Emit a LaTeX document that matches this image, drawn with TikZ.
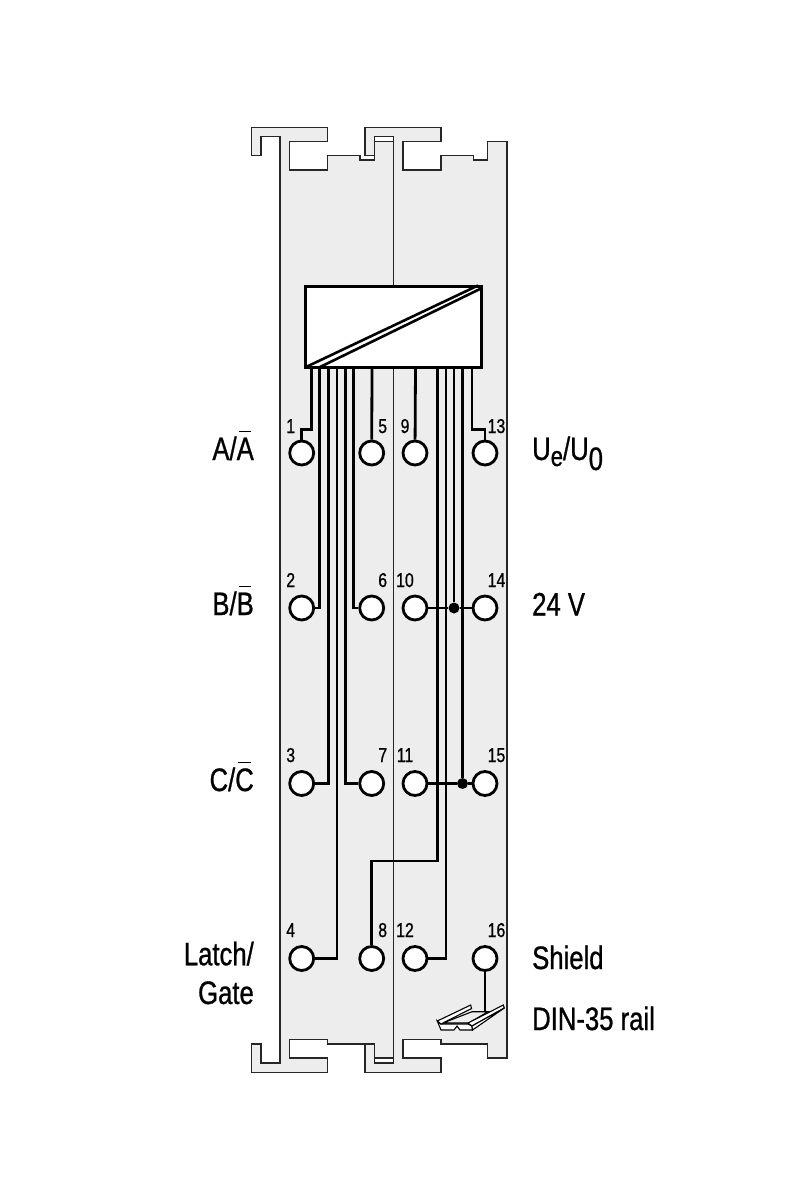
\documentclass[tikz,border=0pt]{standalone}
\usepackage{fontspec}
\setmainfont[FakeStretch=0.79,FakeBold=0.8]{Liberation Sans}
\usepackage{tikz}
\usetikzlibrary{calc}
\definecolor{housing}{HTML}{EDEDED}
\newcommand{\barred}[1]{\setbox0\hbox{#1}\makebox[0pt][l]{\hspace{.15\wd0}\raisebox{28pt}{\rule{.7\wd0}{1.5pt}}}\box0}

\begin{document}
\begin{tikzpicture}[
    x=1pt, y=-1pt,
    housing line/.style={draw=black!85, line width=1.4pt},
    wire/.style={line width=2.8pt, black},
    terminal/.style={circle, draw=black, fill=white, line width=2.8pt, minimum size=24pt, inner sep=0pt},
    junction/.style={circle, fill=black, minimum size=11pt, inner sep=0pt},
    pin no/.style={font=\fontsize{20}{20}\selectfont, anchor=base, inner sep=0pt},
    signal/.style={font=\fontsize{32.5}{38.7}\selectfont, inner sep=0pt}
    ]
    \useasboundingbox[fill=white] (0,0) rectangle (800,1200);

    % housing, left module
    \draw[housing line, fill=housing] (251.5,127.5) -- (327.5,127.5) -- (327.5,141.5) -- (289.5,141.5)
        -- (289.5,170) -- (327.5,170) -- (327.5,155.5) -- (360,155.5) -- (360,160) -- (374.5,160)
        -- (374.5,141.5) -- (393.5,141.5) -- (393.5,1058) -- (374.5,1058) -- (374.5,1044)
        -- (327.5,1044) -- (327.5,1039.5) -- (289.5,1039.5) -- (289.5,1058) -- (327.5,1058)
        -- (327.5,1072.5) -- (251.5,1072.5) -- (251.5,1044) -- (261,1044) -- (261,1063) -- (280,1063)
        -- (280,136.5) -- (261,136.5) -- (261,155.5) -- (251.5,155.5) -- cycle;
    % housing, right module
    \draw[housing line, fill=housing] (365,127.5) -- (441,127.5) -- (441,141.5) -- (403,141.5)
        -- (403,170) -- (441,170) -- (441,155.5) -- (473.5,155.5) -- (473.5,160) -- (487.5,160)
        -- (487.5,141.5) -- (507,141.5) -- (507,1058) -- (487.5,1058) -- (487.5,1044)
        -- (441,1044) -- (441,1039.5) -- (403,1039.5) -- (403,1058) -- (441,1058)
        -- (441,1072.5) -- (365,1072.5) -- (365,1044) -- (374.5,1044) -- (374.5,1063) -- (393.5,1063)
        -- (393.5,136.5) -- (374.5,136.5) -- (374.5,155.5) -- (365,155.5) -- cycle;

    % converter
    \node[draw=black, fill=white, line width=2.8pt, minimum width=176pt, minimum height=81pt, inner sep=0pt] (conv) at (393.5,326.8) {};
    \draw[line width=2.6pt] (306,367) -- (478,285.5);
    \draw[line width=2.6pt] (318,368) -- (482,288);

    % free ends of the wires
    \coordinate (w1) at (311.3,368);
    \coordinate (w2) at (319.7,368);
    \coordinate (w3) at (328.7,368);
    \coordinate (w4) at (337,368);
    \coordinate (w7) at (345.3,368);
    \coordinate (w6) at (353.7,368);
    \coordinate (w5) at (372,368);
    \coordinate (w9) at (415.5,368);
    \coordinate (w8) at (437.7,368);
    \coordinate (w12) at (446,368);
    \coordinate (w10) at (454,368);
    \coordinate (w11) at (462.5,368);
    \coordinate (w13) at (472,368);
    \coordinate (rail) at (485,1012);

    % terminals
    \node[terminal] (t1) at (301.7,453) {};
    \node[terminal] (t2) at (301.7,608) {};
    \node[terminal] (t3) at (301.7,783.5) {};
    \node[terminal] (t4) at (301.7,958.5) {};
    \node[terminal] (t5) at (371.7,453) {};
    \node[terminal] (t6) at (371.7,608) {};
    \node[terminal] (t7) at (371.7,783.5) {};
    \node[terminal] (t8) at (371.7,958.5) {};
    \node[terminal] (t9) at (415,453) {};
    \node[terminal] (t10) at (415,608) {};
    \node[terminal] (t11) at (415,783.5) {};
    \node[terminal] (t12) at (415,958.5) {};
    \node[terminal] (t13) at (485,453) {};
    \node[terminal] (t14) at (485,608) {};
    \node[terminal] (t15) at (485,783.5) {};
    \node[terminal] (t16) at (485,958.5) {};
    \node[junction] (j1) at (454,608) {};
    \node[junction] (j2) at (462.5,783.5) {};

    % wires
    \draw[wire] (w1) -- ($(w1 |- 0,429.3)$) -| (t1);
    \draw[wire] (w2) |- (t2);
    \draw[wire] (w3) |- (t3);
    \draw[wire] (w4) |- (t4);
    \draw[wire] (w7) |- (t7);
    \draw[wire] (w6) |- (t6);
    \draw[wire] (w5) -- (t5);
    \draw[wire] (w9) -- (t9);
    \draw[wire] (w8) -- ($(w8 |- 0,861)$) -| (t8);
    \draw[wire] (w12) |- (t12);
    \draw[wire] (w10) -- (j1);
    \draw[wire] (w11) -- (j2);
    \draw[wire] (w13) -- ($(w13 |- 0,429.3)$) -| (t13);
    \draw[wire] (t10) -- (j1) -- (t14);
    \draw[wire] (t11) -- (j2) -- (t15);
    \draw[wire] (t16) -- (rail);

    % rail
    \draw[line width=1.1pt, fill=housing] (443,1023) -- (472,1011.7) -- (488,1011.7) -- (469,1023) -- cycle;
    \draw[line width=1.1pt, fill=white] (437.3,1021) -- (441,1024) -- (443,1024) -- (468,1024) -- (472,1026) -- (472.5,1030)
        -- (460,1030) -- (457,1026) -- (454,1030) -- (441,1030) -- cycle;
    \draw[line width=1.1pt, fill=white] (470.7,1005) -- (437.3,1021) -- (441,1024) -- (471.5,1008.5) -- cycle;
    \draw[line width=1.1pt, fill=white] (503.3,1005) -- (468,1023) -- (472,1026) -- (504.3,1008) -- cycle;
    \draw[line width=1.1pt, fill=white] (472,1026) -- (504.3,1008) -- (472.5,1030) -- cycle;

    % terminal numbers
    \node[pin no] (n1) at (290.7,433) {1};
    \node[pin no] (n2) at (290.7,587) {2};
    \node[pin no] (n3) at (290.7,762) {3};
    \node[pin no] (n4) at (290.7,937) {4};
    \node[pin no] (n5) at (382.7,433) {5};
    \node[pin no] (n6) at (382.7,587) {6};
    \node[pin no] (n7) at (382.7,762) {7};
    \node[pin no] (n8) at (382.7,937) {8};
    \node[pin no] (n9) at (405,433) {9};
    \node[pin no] (n10) at (405,587) {10};
    \node[pin no] (n11) at (405,762) {11};
    \node[pin no] (n12) at (405,937) {12};
    \node[pin no] (n13) at (496.5,433) {13};
    \node[pin no] (n14) at (496.5,587) {14};
    \node[pin no] (n15) at (496.5,762) {15};
    \node[pin no] (n16) at (496.5,937) {16};

    % signals
    \node[signal, anchor=base east] (sigA) at (254,460) {A/\barred{A}};
    \node[signal, anchor=base east] (sigB) at (254,615) {B/\barred{B}};
    \node[signal, anchor=base east] (sigC) at (254,791) {C/\barred{C}};
    \node[signal, anchor=east, align=right] (sigL) at (254,973) {Latch/\\Gate};
    \node[signal, anchor=base west] (sigU) at (532,460) {U\raisebox{-6pt}{\fontsize{28}{28}\selectfont e}/U\raisebox{-10pt}{0}};
    \node[signal, anchor=base west] (sigV) at (532,615.5) {24 V};
    \node[signal, anchor=base west] (sigS) at (532,969) {Shield};
    \node[signal, anchor=base west] (sigR) at (532,1030) {DIN-35 rail};
\end{tikzpicture}
\end{document}
